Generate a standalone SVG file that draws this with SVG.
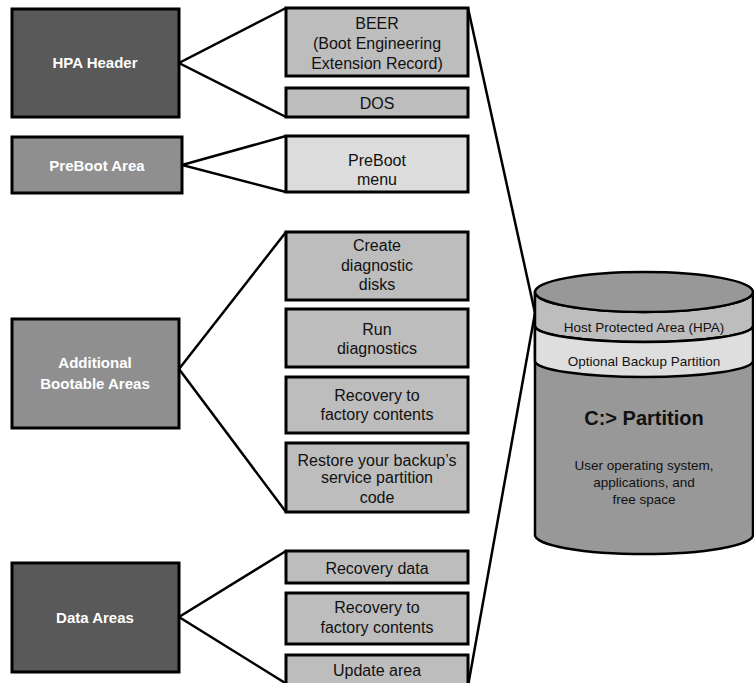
<svg xmlns="http://www.w3.org/2000/svg" width="754" height="683" viewBox="0 0 754 683">
<style>
.box{stroke:#000;stroke-width:3}
.dark{fill:#595959}
.mid{fill:#8f8f8f}
.item{fill:#bdbdbd}
.light{fill:#dcdcdc}
.lt{font-family:"Liberation Sans",Arial,sans-serif;font-weight:bold;font-size:15px;fill:#fff;text-anchor:middle}
.rt{font-family:"Liberation Sans",Arial,sans-serif;font-size:16px;fill:#111;text-anchor:middle}
.ct{font-family:"Liberation Sans",Arial,sans-serif;font-size:13.5px;fill:#111;text-anchor:middle}
.conn{stroke:#000;stroke-width:2.5;fill:none}
.cyl{stroke:#000;stroke-width:2.5}
</style>
<rect width="754" height="683" fill="#fff"/>
<g id="connectors">
<polyline class="conn" points="286,8 179,63 286,117"/>
<polyline class="conn" points="286,136 182,165 286,192"/>
<polyline class="conn" points="286,232 179,369 286,512"/>
<polyline class="conn" points="286,551 179,617 290,686"/>
<polyline class="conn" points="468,8 535,313 468,686"/>
</g>
<g id="hpa-header"><rect class="box dark" x="12" y="9" width="167" height="108"/><text class="lt" x="95" y="68">HPA Header</text></g>
<g id="preboot-area"><rect class="box mid" x="12" y="137" width="170" height="56"/><text class="lt" x="97" y="171">PreBoot Area</text></g>
<g id="additional-bootable"><rect class="box mid" x="12" y="319" width="167" height="109"/><text class="lt" x="95" y="368">Additional</text><text class="lt" x="95" y="389">Bootable Areas</text></g>
<g id="data-areas"><rect class="box dark" x="12" y="563" width="167" height="109"/><text class="lt" x="95" y="623">Data Areas</text></g>
<g id="beer"><rect class="box item" x="286" y="8" width="182" height="68"/><text class="rt" x="377" y="29">BEER</text><text class="rt" x="377" y="49">(Boot Engineering</text><text class="rt" x="377" y="69">Extension Record)</text></g>
<g id="dos"><rect class="box item" x="286" y="88" width="182" height="29"/><text class="rt" x="377" y="109">DOS</text></g>
<g id="preboot-menu"><rect class="box light" x="286" y="136" width="182" height="56"/><text class="rt" x="377" y="166">PreBoot</text><text class="rt" x="377" y="185">menu</text></g>
<g id="create-disks"><rect class="box item" x="286" y="232" width="182" height="68"/><text class="rt" x="377" y="251">Create</text><text class="rt" x="377" y="271">diagnostic</text><text class="rt" x="377" y="290">disks</text></g>
<g id="run-diag"><rect class="box item" x="286" y="309" width="182" height="58"/><text class="rt" x="377" y="335">Run</text><text class="rt" x="377" y="354">diagnostics</text></g>
<g id="recovery-factory-1"><rect class="box item" x="286" y="377" width="182" height="56"/><text class="rt" x="377" y="401">Recovery to</text><text class="rt" x="377" y="420">factory contents</text></g>
<g id="restore-backup"><rect class="box item" x="286" y="443" width="182" height="69"/><text class="rt" x="377" y="466">Restore your backup’s</text><text class="rt" x="377" y="483">service partition</text><text class="rt" x="377" y="503">code</text></g>
<g id="recovery-data"><rect class="box item" x="286" y="551" width="182" height="32"/><text class="rt" x="377" y="574">Recovery data</text></g>
<g id="recovery-factory-2"><rect class="box item" x="286" y="593" width="182" height="51"/><text class="rt" x="377" y="613">Recovery to</text><text class="rt" x="377" y="633">factory contents</text></g>
<g id="update-area"><rect class="box item" x="286" y="655" width="182" height="40"/><text class="rt" x="377" y="676">Update area</text></g>
<g id="partition-cylinder">
<path d="M535,292 L535,535 A109,19 0 0 0 753,535 L753,292 Z" fill="#989898" class="cyl"/>
<path d="M535,292 A109,20 0 0 0 753,292 L753,326 A109,16 0 0 1 535,326 Z" fill="#bdbdbd" class="cyl"/>
<path d="M535,326 A109,16 0 0 0 753,326 L753,361 A109,16 0 0 1 535,361 Z" fill="#dedede" class="cyl"/>
<ellipse cx="644" cy="292" rx="109" ry="20" fill="#989898" class="cyl"/>
<text class="ct" x="644" y="332">Host Protected Area (HPA)</text>
<text class="ct" x="644" y="366">Optional Backup Partition</text>
<text x="644" y="425" font-family="Liberation Sans, Arial, sans-serif" font-weight="bold" font-size="20" fill="#111" text-anchor="middle">C:&gt; Partition</text>
<text class="ct" x="644" y="470" font-size="13">User operating system,</text>
<text class="ct" x="644" y="487" font-size="13">applications, and</text>
<text class="ct" x="644" y="504" font-size="13">free space</text>
</g>
</svg>
